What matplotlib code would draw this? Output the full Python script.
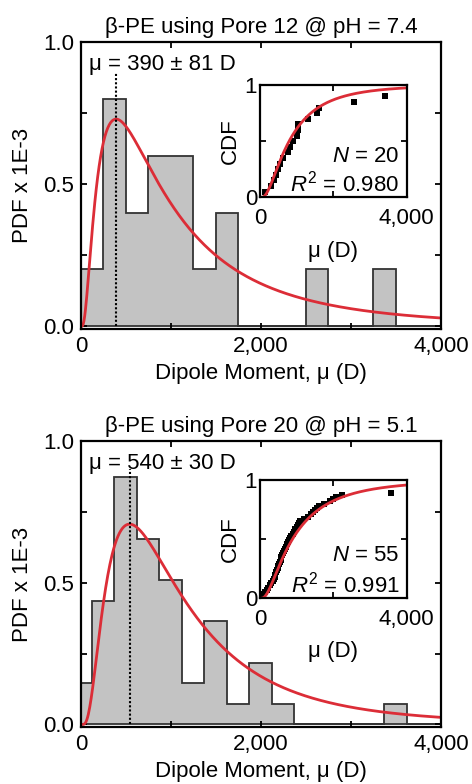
import math

import numpy as np
import matplotlib
matplotlib.use("Agg")
import matplotlib.pyplot as plt
from matplotlib.ticker import FixedLocator, FuncFormatter

plt.rcParams["font.family"] = ["Liberation Sans", "DejaVu Sans"]
plt.rcParams["mathtext.fontset"] = "custom"
plt.rcParams["mathtext.rm"] = "Liberation Sans"
plt.rcParams["mathtext.it"] = "Liberation Sans:italic"

dipoles_top = [150, 300, 380, 430, 480, 540, 640, 770, 830, 900,
               1010, 1030, 1050, 1300, 1560, 1600, 2560, 3400]
n_top = 20
mode_top = 390
err_top = 81
sigma_top = 0.92        # log-normal shape of the PDF fit
cdf_fit_top = (794, 0.826)  # (median, shape) of the CDF fit in the inset
r2_top = 0.980
bin_start_top = 0

# Bottom panel: beta-PE, pore 20, pH 5.1
dipoles_bot = [40, 95,
               150, 190, 230, 270, 310, 350,
               380, 400, 420, 440, 460, 480, 500, 520, 540, 560, 580, 600,
               635, 660, 690, 720, 745, 770, 800, 825, 855,
               890, 920, 960, 1000, 1040, 1070, 1100,
               1200, 1320,
               1400, 1450, 1500, 1550, 1600,
               1750,
               1900, 1980, 2060,
               2250,
               3560]
n_bot = 55
mode_bot = 540
err_bot = 30
sigma_bot = 0.775
cdf_fit_bot = (886, 0.877)
r2_bot = 0.991
bin_start_bot = -130

bin_width = 250
xmax = 4000

titles = ["\u03b2-PE using Pore 12 @ pH = 7.4", "\u03b2-PE using Pore 20 @ pH = 5.1"]

FS = 16
RED = "#dc2d37"


def lognorm_pdf(x, mode, sigma):
    m = math.log(mode) + sigma ** 2
    return np.exp(-(np.log(x) - m) ** 2 / (2 * sigma ** 2)) / (x * sigma * np.sqrt(2 * np.pi))


def lognorm_cdf(x, median, sigma):
    erf = np.frompyfunc(math.erf, 1, 1)
    z = (np.log(x) - math.log(median)) / (sigma * np.sqrt(2))
    return 0.5 * (1 + erf(z).astype(float))


def style_axes(ax, lw=1.6):
    for sp in ax.spines.values():
        sp.set_linewidth(lw)
    ax.tick_params(which="both", direction="in", top=True, right=True,
                   length=4, width=1.3, labelsize=FS)


def draw_panel(ax, ins, title, dipoles, n, mode, err, sigma, cdf_fit, r2,
               bin_start, line_top):
    edges = np.arange(bin_start, xmax + bin_width, bin_width)
    weights = np.full(len(dipoles), 1000.0 / (n * bin_width))  # PDF x 1E-3
    ax.hist(dipoles, bins=edges, weights=weights, histtype="stepfilled",
            facecolor="#c3c3c3", edgecolor="#333333", linewidth=1.3)

    x = np.linspace(1, xmax, 500)
    ax.plot(x, lognorm_pdf(x, mode, sigma) * 1000, color=RED, lw=2.0)
    ax.vlines(mode, 0, line_top, colors="black", linestyles=(0, (1, 1)), lw=1.5)
    ax.text(90, 0.92, f"\u03bc = {mode} \u00b1 {err} D", fontsize=FS,
            ha="left", va="center")

    ax.set_xlim(0, xmax)
    ax.set_ylim(-0.01, 1.0)
    ax.xaxis.set_major_locator(FixedLocator([0, 2000, 4000]))
    ax.xaxis.set_minor_locator(FixedLocator([1000, 3000]))
    ax.yaxis.set_major_locator(FixedLocator([0, 0.5, 1.0]))
    ax.yaxis.set_minor_locator(FixedLocator([0.25, 0.75]))
    ax.xaxis.set_major_formatter(FuncFormatter(lambda v, p: f"{v:,.0f}"))
    ax.yaxis.set_major_formatter(FuncFormatter(lambda v, p: f"{v:.1f}"))
    style_axes(ax)
    ax.tick_params(axis="x", pad=5)
    ax.tick_params(axis="y", pad=5)
    ax.set_xlabel("Dipole Moment, \u03bc (D)", fontsize=FS, labelpad=4)
    ax.set_ylabel("PDF x 1E-3", fontsize=FS, labelpad=7)
    ax.set_title(title, fontsize=FS, pad=6)

    # inset: empirical CDF + log-normal fit
    cdf = np.arange(1, len(dipoles) + 1) / n
    ins.plot(sorted(dipoles), cdf, "s", color="black", ms=4, mew=0)
    ins.plot(x, lognorm_cdf(x, *cdf_fit), color=RED, lw=2.0)
    ins.set_xlim(0, xmax)
    ins.set_ylim(0, 1)
    ins.xaxis.set_major_locator(FixedLocator([0, 4000]))
    ins.xaxis.set_minor_locator(FixedLocator([2000]))
    ins.yaxis.set_major_locator(FixedLocator([0, 1]))
    ins.yaxis.set_minor_locator(FixedLocator([0.5]))
    ins.xaxis.set_major_formatter(FuncFormatter(lambda v, p: f"{v:,.0f}"))
    ins.yaxis.set_major_formatter(FuncFormatter(lambda v, p: f"{v:.0f}"))
    style_axes(ins)
    ins.tick_params(axis="x", pad=8)
    ins.tick_params(axis="y", pad=2)
    ins.set_xlabel("\u03bc (D)", fontsize=FS, labelpad=8)
    ins.set_ylabel("CDF", fontsize=FS, labelpad=3)
    ins.text(0.95, 0.36, f"$\\mathit{{N}}$ = {n}", transform=ins.transAxes,
             fontsize=FS, ha="right", va="center")
    ins.text(0.95, 0.12, f"$\\mathit{{R}}^2$ = {r2:.3f}", transform=ins.transAxes,
             fontsize=FS, ha="right", va="center")


fig = plt.figure(figsize=(4.72, 7.84), dpi=100)
ax_top = fig.add_axes([0.1716, 0.580, 0.7627, 0.3668])
ins_top = fig.add_axes([0.5508, 0.7483, 0.3108, 0.1432])
ax_bot = fig.add_axes([0.1716, 0.0723, 0.7627, 0.3656])
ins_bot = fig.add_axes([0.5508, 0.2369, 0.3108, 0.1509])

draw_panel(ax_top, ins_top, titles[0], dipoles_top, n_top, mode_top, err_top,
           sigma_top, cdf_fit_top, r2_top, bin_start_top, 0.89)
draw_panel(ax_bot, ins_bot, titles[1], dipoles_bot, n_bot, mode_bot, err_bot,
           sigma_bot, cdf_fit_bot, r2_bot, bin_start_bot, 0.90)

fig.savefig("out.png", dpi=100)
